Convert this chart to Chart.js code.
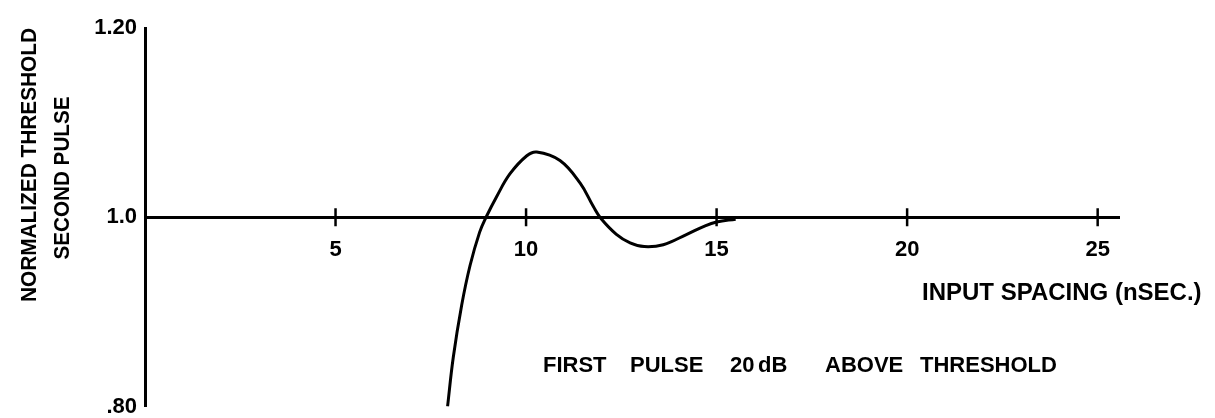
<!DOCTYPE html>
<html>
<head>
<meta charset="utf-8">
<script src="https://cdn.jsdelivr.net/npm/chart.js@4.4.0/dist/chart.umd.min.js"></script>
<style>
  html, body { margin: 0; padding: 0; background: #fff; }
  #wrap { width: 1215px; height: 418px; }
</style>
</head>
<body>
<div id="wrap"><canvas id="thresholdChart"></canvas></div>
<script>
// Values: input spacing (nsec) -> normalized threshold
const spacing = [7.94, 8.09, 8.31, 8.53, 8.78, 8.95, 9.23, 9.58, 10.02, 10.28, 10.89,
                 11.42, 11.77, 11.96, 12.37, 12.73, 13.1, 13.6, 14.22, 14.7, 15.0, 15.5];
const threshold = [0.80, 0.852, 0.907, 0.949, 0.984, 1.0, 1.022, 1.046, 1.065, 1.069, 1.060,
                   1.036, 1.011, 0.999, 0.982, 0.973, 0.969, 0.971, 0.982, 0.991, 0.995, 0.998];

const xTicks = [5, 10, 15, 20, 25];
const yTicks = [0.80, 1.0, 1.20];
const yTickLabels = ['.80', '1.0', '1.20'];

const FONT = '"Liberation Sans", Arial, sans-serif';

// Hand-lettered titles and the note, drawn on the canvas
const letteringPlugin = {
    id: 'lettering',
    afterDraw(chart) {
        const c = chart.ctx;
        c.save();
        c.fillStyle = '#000';
        c.font = 'bold 22px ' + FONT;
        c.textBaseline = 'middle';

        // y title, two rotated lines
        c.textAlign = 'center';
        c.save();
        c.translate(30, 165);
        c.rotate(-Math.PI / 2);
        c.fillText('NORMALIZED THRESHOLD', 0, 0, 274);
        c.restore();
        c.save();
        c.translate(63, 178);
        c.rotate(-Math.PI / 2);
        c.fillText('SECOND PULSE', 0, 0, 163);
        c.restore();

        // x title
        c.textAlign = 'left';
        c.font = 'bold 24px ' + FONT;
        c.fillText('INPUT SPACING (nSEC.)', 922, 293, 290);

        // note, word by word (wide hand spacing)
        c.font = 'bold 22px ' + FONT;
        const words = [['FIRST', 543], ['PULSE', 630], ['20', 730], ['dB', 758],
                       ['ABOVE', 825], ['THRESHOLD', 920]];
        words.forEach(([w, x]) => c.fillText(w, x, 366));
        c.restore();
    }
};

const ctx = document.getElementById('thresholdChart').getContext('2d');
new Chart(ctx, {
    type: 'scatter',
    data: {
        datasets: [
            {
                label: 'threshold',
                data: spacing.map((x, i) => ({ x, y: threshold[i] })),
                showLine: true,
                borderColor: '#000',
                borderWidth: 3,
                pointRadius: 0,
                tension: 0.4,
                fill: false
            },
            {
                label: 'tick marks',
                data: xTicks.map(x => ({ x, y: 1.0 })),
                showLine: false,
                pointStyle: 'line',
                rotation: 90,
                pointRadius: 9,
                borderColor: '#000',
                borderWidth: 2.5
            }
        ]
    },
    options: {
        responsive: true,
        maintainAspectRatio: false,
        animation: false,
        layout: { padding: { top: 28, right: 96, bottom: 6, left: 0 } },
        plugins: {
            legend: { display: false },
            tooltip: { enabled: false }
        },
        scales: {
            x: {
                type: 'linear',
                position: { y: 1.0 },
                min: 0,
                max: 25.56,
                afterBuildTicks: s => { s.ticks = xTicks.map(v => ({ value: v })); },
                grid: { display: false, drawTicks: false },
                border: { display: true, color: '#000', width: 3 },
                ticks: {
                    autoSkip: false,
                    maxRotation: 0,
                    padding: 19,
                    color: '#000',
                    font: { family: FONT, size: 22, weight: 'bold' }
                }
            },
            y: {
                type: 'linear',
                min: 0.8,
                max: 1.2,
                afterBuildTicks: s => { s.ticks = yTicks.map(v => ({ value: v })); },
                afterFit: s => {
                    s.width = 145;
                    s.paddingTop = 0;
                    s.paddingBottom = 0;
                },
                grid: { display: false, drawTicks: false },
                border: { display: true, color: '#000', width: 3 },
                ticks: {
                    padding: 8,
                    color: '#000',
                    font: { family: FONT, size: 22, weight: 'bold' },
                    callback: (v, i) => yTickLabels[i]
                }
            }
        }
    },
    plugins: [letteringPlugin]
});
</script>
</body>
</html>
